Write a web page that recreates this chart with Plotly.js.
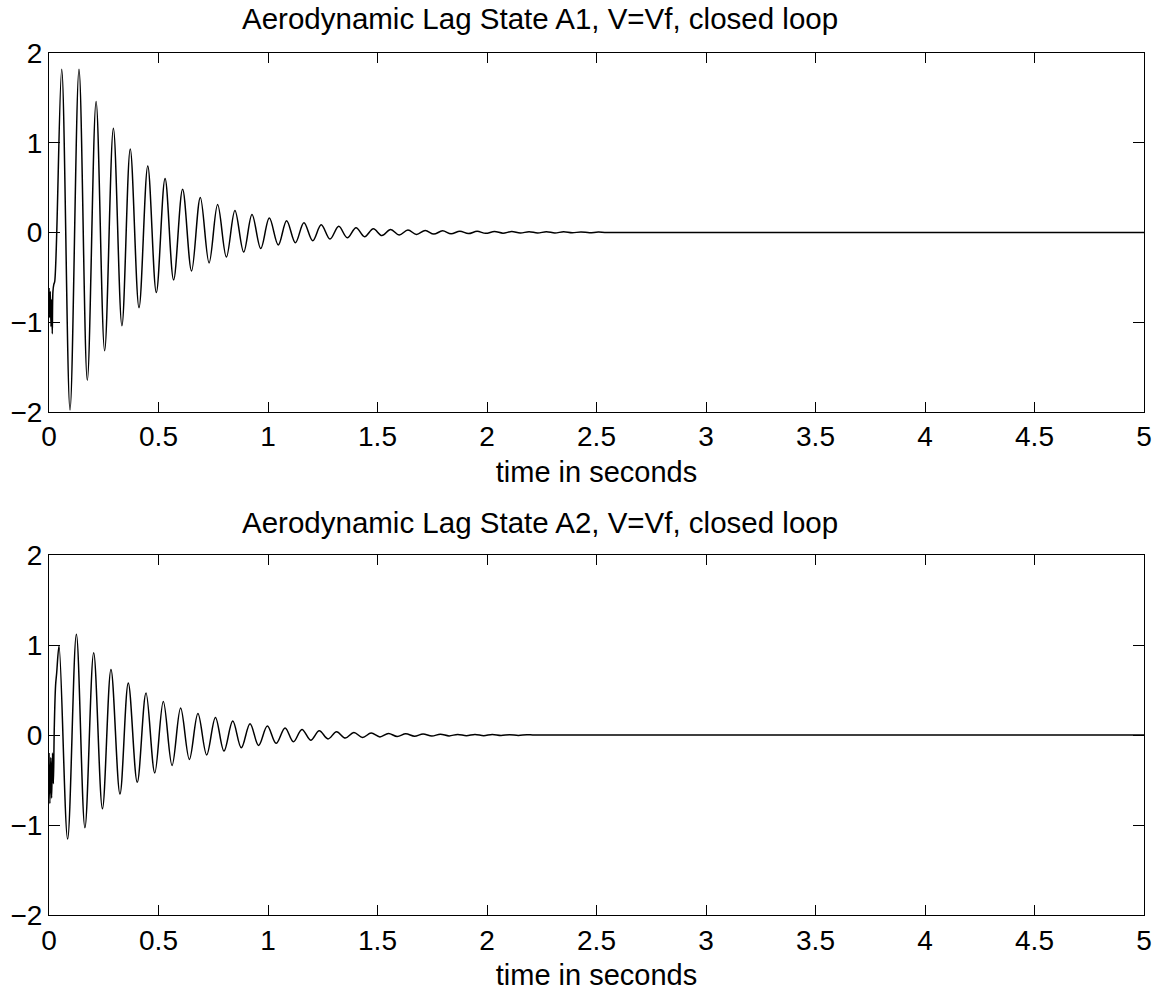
<!DOCTYPE html>
<html>
<head>
<meta charset="utf-8">
<script src="https://cdn.plot.ly/plotly-3.0.1.min.js"></script>
<style>
  html, body { margin: 0; padding: 0; background: #fff; }
  #chart { width: 1159px; height: 993px; }
</style>
</head>
<body>
<div id="chart"></div>
<script>
// ---- Data (extrema of the damped responses) ----
const timeA1 = [
  0, 0.003, 0.006, 0.009, 0.012, 0.015, 0.018, 0.022, 0.026,
  0.058, 0.096, 0.137, 0.175, 0.215, 0.254, 0.294, 0.333, 0.371, 0.411,
  0.451, 0.490, 0.530, 0.569, 0.610, 0.651, 0.691, 0.731, 0.770, 0.810,
  0.849, 0.889, 0.927, 0.967, 1.006, 1.047, 1.085, 1.125, 1.164, 1.204,
  1.243, 1.283, 1.323, 1.362, 1.402, 1.441, 1.481, 1.520, 1.560, 1.599,
  1.639, 1.678, 1.718, 1.757, 1.797, 1.836, 1.876, 1.915, 1.955, 1.994,
  2.034, 2.073, 2.113, 2.152, 2.192, 2.231, 2.271, 2.310, 2.350, 2.389,
  2.429, 2.468, 2.508, 2.550, 5.0
];
const stateA1 = [
  -0.62, -0.95, -0.66, -1.05, -0.75, -1.13, -0.66, -0.58, -0.55,
  1.82, -1.98, 1.82, -1.65, 1.46, -1.32, 1.16, -1.04, 0.93, -0.84,
  0.74, -0.67, 0.60, -0.53, 0.48, -0.43, 0.39, -0.34, 0.31, -0.275,
  0.245, -0.22, 0.20, -0.18, 0.16, -0.14, 0.13, -0.115, 0.107, -0.093,
  0.085, -0.075, 0.067, -0.060, 0.052, -0.048, 0.040, -0.036, 0.032, -0.029,
  0.026, -0.023, 0.021, -0.019, 0.017, -0.016, 0.014, -0.013, 0.012, -0.011,
  0.010, -0.009, 0.009, -0.008, 0.008, -0.007, 0.007, -0.006, 0.006, -0.005,
  0.005, -0.004, 0.004, 0, 0
];

const timeA2 = [
  0, 0.004, 0.008, 0.012, 0.016, 0.020, 0.024, 0.030, 0.035,
  0.046, 0.085, 0.125, 0.164, 0.204, 0.244, 0.283, 0.324, 0.362, 0.403,
  0.443, 0.483, 0.522, 0.562, 0.601, 0.641, 0.680, 0.720, 0.760, 0.799,
  0.839, 0.878, 0.918, 0.957, 0.997, 1.037, 1.078, 1.116, 1.155, 1.195,
  1.234, 1.274, 1.313, 1.353, 1.392, 1.432, 1.471, 1.511, 1.550, 1.590,
  1.629, 1.669, 1.708, 1.748, 1.787, 1.827, 1.866, 1.906, 1.945, 1.985,
  2.024, 2.064, 2.103, 2.143, 2.182, 2.220, 5.0
];
const stateA2 = [
  -0.20, -0.76, -0.25, -0.70, -0.20, -0.54, 0.07, 0.55, 0.69,
  0.99, -1.156, 1.12, -1.03, 0.915, -0.82, 0.73, -0.655, 0.58, -0.525,
  0.467, -0.42, 0.374, -0.337, 0.30, -0.27, 0.24, -0.22, 0.196, -0.178,
  0.156, -0.141, 0.126, -0.115, 0.10, -0.092, 0.08, -0.074, 0.063, -0.056,
  0.048, -0.042, 0.037, -0.033, 0.029, -0.026, 0.023, -0.020, 0.018, -0.016,
  0.014, -0.013, 0.012, -0.011, 0.010, -0.009, 0.008, -0.007, 0.007, -0.006,
  0.006, -0.005, 0.005, -0.004, 0.004, 0, 0
];

const xTicks = [0, 0.5, 1, 1.5, 2, 2.5, 3, 3.5, 4, 4.5, 5];
const yTicks = [-2, -1, 0, 1, 2];
const titles = [
  "Aerodynamic Lag State A1, V=Vf, closed loop",
  "Aerodynamic Lag State A2, V=Vf, closed loop"
];
const xLabel = "time in seconds";

// ---- Styling ----
const FONT = "Liberation Sans, Arial, Helvetica, sans-serif";
const lineStyle = {color: "#000", width: 1.5, shape: "spline", smoothing: 1};

const traces = [
  {x: timeA1, y: stateA1, xaxis: "x", yaxis: "y", type: "scatter", mode: "lines",
   line: lineStyle, hoverinfo: "skip"},
  {x: timeA2, y: stateA2, xaxis: "x2", yaxis: "y2", type: "scatter", mode: "lines",
   line: lineStyle, hoverinfo: "skip"}
];

function xAxis(anchor) {
  return {
    anchor: anchor, domain: [0, 1], range: [0, 5],
    tickmode: "array", tickvals: xTicks, ticktext: xTicks.map(String),
    ticks: "inside", ticklen: 10, tickwidth: 1, tickcolor: "#000",
    showline: true, linecolor: "#000", linewidth: 1, mirror: "ticks",
    showgrid: false, zeroline: false,
    tickfont: {family: FONT, size: 28, color: "#000"},
    title: {text: xLabel, font: {family: FONT, size: 29, color: "#000"}, standoff: 10},
    fixedrange: true
  };
}
function yAxis(anchor, domain) {
  return {
    anchor: anchor, domain: domain, range: [-2, 2],
    tickmode: "array", tickvals: yTicks, ticktext: yTicks.map(v => v < 0 ? "\u2212" + Math.abs(v) : String(v)),
    ticks: "inside", ticklen: 11, tickwidth: 1, tickcolor: "#000",
    showline: true, linecolor: "#000", linewidth: 1, mirror: "ticks",
    showgrid: false, zeroline: false,
    tickfont: {family: FONT, size: 28, color: "#000"},
    fixedrange: true
  };
}

const layout = {
  width: 1159, height: 993,
  margin: {l: 49, r: 15, t: 52.5, b: 78, pad: 0},
  paper_bgcolor: "#fff", plot_bgcolor: "#fff",
  showlegend: false,
  xaxis: xAxis("y"),
  yaxis: yAxis("x", [0.5838, 1]),
  xaxis2: xAxis("y2"),
  yaxis2: yAxis("x2", [0, 0.4174]),
  annotations: [
    {text: titles[0], xref: "paper", yref: "paper", x: 0.448, y: 1.0403, xanchor: "center", yanchor: "middle",
     showarrow: false, font: {family: FONT, size: 29.5, color: "#000"}},
    {text: titles[1], xref: "paper", yref: "paper", x: 0.448, y: 0.4557, xanchor: "center", yanchor: "middle",
     showarrow: false, font: {family: FONT, size: 29.5, color: "#000"}}
  ]
};

Plotly.newPlot("chart", traces, layout, {staticPlot: true, displayModeBar: false});
</script>
</body>
</html>
